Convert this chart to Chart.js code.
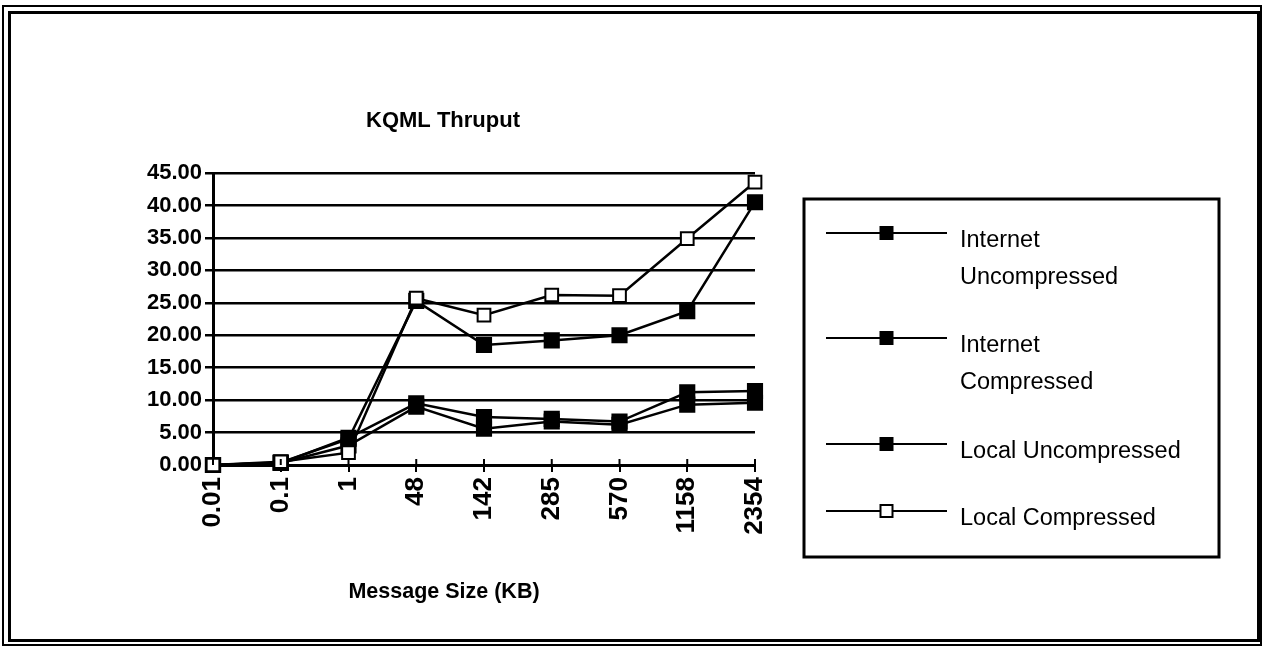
<!DOCTYPE html>
<html>
<head>
<meta charset="utf-8">
<script src="https://cdn.jsdelivr.net/npm/chart.js@4/dist/chart.umd.min.js"></script>
<style>
  html, body { margin: 0; padding: 0; background: #fff; }
  #wrap { position: relative; width: 1264px; height: 647px; overflow: hidden; }
  #c { position: absolute; left: 0; top: 0; }
  .frame { position: absolute; box-sizing: border-box; border-style: solid; border-color: #000; pointer-events: none; }
</style>
</head>
<body>
<div id="wrap">
  <canvas id="c" width="1264" height="647"></canvas>
  <div class="frame" style="left:2px;top:5px;width:1260px;height:641px;border-width:2px;"></div>
  <div class="frame" style="left:8px;top:11px;width:1252px;height:631px;border-width:3px;"></div>
</div>
<script>
// ---- data ----
const categories = ['0.01', '0.1', '1', '48', '142', '285', '570', '1158', '2354'];
const seriesNames = ['Internet Uncompressed', 'Internet Compressed', 'Local Uncompressed', 'Local Compressed'];
const legendLines = [['Internet', 'Uncompressed'], ['Internet', 'Compressed'], ['Local Uncompressed'], ['Local Compressed']];
const internetUncompressed = [0, 0.3, 4.2, 9.5, 7.4, 7.1, 6.7, 11.2, 11.4];
const internetCompressed   = [0, 0.3, 3.0, 9.0, 5.6, 6.7, 6.2, 9.3, 9.6];
const localUncompressed    = [0, 0.4, 4.0, 25.3, 18.5, 19.2, 20.0, 23.7, 40.5];
const localCompressed      = [0, 0.5, 1.9, 25.7, 23.1, 26.2, 26.1, 34.9, 43.6];
const yTicks = [0, 5, 10, 15, 20, 25, 30, 35, 40, 45];
const chartTitle = 'KQML Thruput';
const xAxisTitle = 'Message Size (KB)';

const FONT = "'Liberation Sans', Arial, Helvetica, sans-serif";

function ds(label, data, open, order) {
  return {
    label, data, order,
    clip: false,
    borderColor: '#000',
    borderWidth: 2.5,
    backgroundColor: open ? '#fff' : '#000',
    pointStyle: 'rect',
    pointRadius: open ? 9 : 10,
    pointHoverRadius: open ? 9 : 10,
    pointBorderWidth: 2,
    pointBorderColor: '#000',
    pointBackgroundColor: open ? '#fff' : '#000',
    tension: 0,
    fill: false
  };
}

const textPlugin = {
  id: 'texts',
  afterDraw(chart, args, opts) {
    const ctx = chart.ctx;
    ctx.save();
    ctx.fillStyle = '#000';
    // title
    ctx.font = 'bold 22px ' + FONT;
    ctx.textAlign = 'left';
    ctx.textBaseline = 'middle';
    ctx.fillText(chartTitle, opts.titleX, opts.titleY);
    // x axis title
    ctx.font = 'bold 21.5px ' + FONT;
    ctx.textAlign = 'center';
    ctx.fillText(xAxisTitle, opts.xTitleX, opts.xTitleY);
    // crossing tick marks above x axis
    const xs = chart.scales.x;
    ctx.strokeStyle = '#000';
    ctx.lineWidth = 2;
    for (let i = 0; i < categories.length; i++) {
      const px = xs.getPixelForTick(i);
      ctx.beginPath();
      ctx.moveTo(px, xs.top - 6);
      ctx.lineTo(px, xs.top);
      ctx.stroke();
    }
    // legend box
    const L = opts.legend;
    ctx.lineWidth = 3;
    ctx.strokeRect(L.x, L.y, L.w, L.h);
    ctx.font = '23.5px ' + FONT;
    ctx.textAlign = 'left';
    ctx.textBaseline = 'middle';
    chart.data.datasets.forEach((d, i) => {
      const ry = L.rows[i];
      ctx.lineWidth = 2;
      ctx.beginPath();
      ctx.moveTo(L.lineX0, ry);
      ctx.lineTo(L.lineX1, ry);
      ctx.stroke();
      const mx = (L.lineX0 + L.lineX1) / 2;
      const open = d.pointBackgroundColor === '#fff';
      const s = open ? 12 : 14;
      if (open) {
        ctx.fillStyle = '#fff';
        ctx.fillRect(mx - s / 2, ry - s / 2, s, s);
        ctx.lineWidth = 2;
        ctx.strokeRect(mx - s / 2, ry - s / 2, s, s);
      } else {
        ctx.fillStyle = '#000';
        ctx.fillRect(mx - s / 2, ry - s / 2, s, s);
      }
      ctx.fillStyle = '#000';
      const lines = legendLines[i] || [d.label];
      lines.forEach((ln, k) => ctx.fillText(ln, L.textX, ry + L.textDy + k * L.lineH));
    });
    ctx.restore();
  }
};

new Chart(document.getElementById('c'), {
  type: 'line',
  data: {
    labels: categories,
    datasets: [
      ds(seriesNames[0], internetUncompressed, false, 3),
      ds(seriesNames[1], internetCompressed, false, 2),
      ds(seriesNames[2], localUncompressed, false, 1),
      ds(seriesNames[3], localCompressed, true, 0)
    ]
  },
  options: {
    responsive: false,
    animation: false,
    devicePixelRatio: 1,
    layout: { padding: { left: 0, top: 173, right: 509, bottom: 62 } },
    plugins: {
      legend: { display: false },
      title: { display: false },
      tooltip: { enabled: false },
      texts: {
        titleX: 366, titleY: 121,
        xTitleX: 444, xTitleY: 592,
        legend: { x: 804, y: 199, w: 415, h: 358, lineX0: 826, lineX1: 947,
                  rows: [233, 338, 444, 511], textX: 960, textDy: 8, lineH: 37 }
      }
    },
    scales: {
      x: {
        type: 'category',
        offset: false,
        afterFit: s => { s.height = 120; },
        grid: { display: true, drawOnChartArea: false, color: '#000', lineWidth: 2, tickLength: 7 },
        border: { display: true, color: '#000', width: 3 },
        ticks: {
          autoSkip: false, maxRotation: 90, minRotation: 90, padding: 5,
          color: '#000', font: { family: FONT, size: 26, weight: 'bold' }
        }
      },
      y: {
        min: 0, max: 45,
        afterFit: s => { s.width = 213; },
        afterBuildTicks: s => { s.ticks = yTicks.map(v => ({ value: v })); },
        grid: { display: true, color: '#000', lineWidth: 2.5, tickLength: 8 },
        border: { display: true, color: '#000', width: 3 },
        ticks: {
          padding: 3, color: '#000',
          font: { family: FONT, size: 22, weight: 'bold' },
          callback: v => Number(v).toFixed(2)
        }
      }
    }
  },
  plugins: [textPlugin]
});
</script>
</body>
</html>
